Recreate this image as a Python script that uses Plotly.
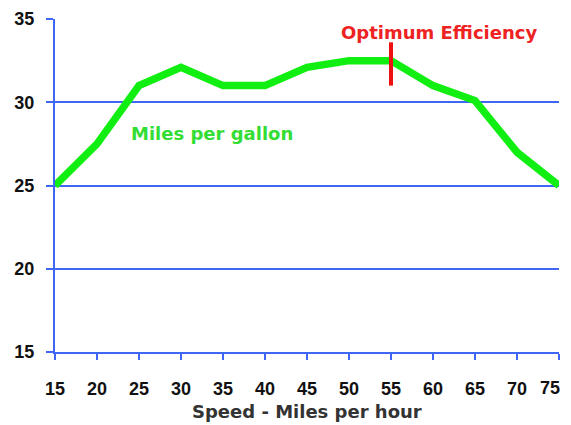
import plotly.graph_objects as go

speed = [15, 20, 25, 30, 35, 40, 45, 50, 55, 60, 65, 70, 75]
mpg = [25, 27.5, 31, 32.1, 31, 31, 32.1, 32.5, 32.5, 31, 30.1, 27, 25]
x_ticks = [15, 20, 25, 30, 35, 40, 45, 50, 55, 60, 65, 70, 75]
y_ticks = [15, 20, 25, 30, 35]
optimum_speed = 55
optimum_range = [31.0, 33.6]

blue = "#3f66f5"
green = "#11ee11"
font_family = "Liberation Sans, Arial, sans-serif"
wide_font = "DejaVu Sans, Verdana, sans-serif"

fig = go.Figure()
fig.add_trace(go.Scatter(x=speed, y=mpg, mode="lines",
                         line=dict(color=green, width=7.5), hoverinfo="skip",
                         showlegend=False))
fig.add_trace(go.Scatter(x=[optimum_speed, optimum_speed], y=optimum_range, mode="lines",
                         line=dict(color="#ee1111", width=4), hoverinfo="skip",
                         showlegend=False))

fig.add_annotation(x=60.7, y=34.2, text="<b>Optimum Efficiency</b>", showarrow=False,
                   font=dict(family=wide_font, size=18, color="#ee2222"),
                   xanchor="center", yanchor="middle")
fig.add_annotation(x=33.7, y=28.15, text="<b>Miles per gallon</b>", showarrow=False,
                   font=dict(family=wide_font, size=18, color="#33dd33"),
                   xanchor="center", yanchor="middle")
# x-axis title
fig.add_annotation(x=0.5, xref="paper", y=-0.18, yref="paper",
                   text="<b>Speed - Miles per hour</b>", showarrow=False,
                   font=dict(family=wide_font, size=18, color="#333333"),
                   xanchor="center", yanchor="middle")
# last x tick label, kept inside the page edge
fig.add_annotation(x=x_ticks[-1], xref="x", y=0, yref="paper", yshift=-36, xshift=3,
                   text=f"<b>{x_ticks[-1]}</b>", showarrow=False,
                   font=dict(family=font_family, size=18, color="#111111"),
                   xanchor="right", yanchor="middle")

x_text = [f"<b>{v}</b>" for v in x_ticks[:-1]] + [""]

fig.update_layout(
    width=555, height=417,
    margin=dict(l=47, r=4, t=11, b=73),
    paper_bgcolor="white", plot_bgcolor="white",
    font=dict(family=font_family, color="#1a1a1a"),
    xaxis=dict(range=[15, 75], tickvals=x_ticks, ticktext=x_text,
               showgrid=False, zeroline=False, showline=True, linecolor=blue, linewidth=2,
               ticks="outside", ticklen=6, tickwidth=2, tickcolor=blue, automargin=False,
               tickfont=dict(size=18, color="#111111"), ticklabelstandoff=13),
    yaxis=dict(range=[15, 35], tickvals=y_ticks, ticktext=[f"<b>{v}</b>" for v in y_ticks],
               showgrid=True, gridcolor=blue, gridwidth=2, zeroline=False,
               showline=True, linecolor=blue, linewidth=2, automargin=False,
               ticks="outside", ticklen=7, tickwidth=2, tickcolor=blue,
               tickfont=dict(size=18, color="#111111"), ticklabelstandoff=8),
)

fig.write_html("out.html")
